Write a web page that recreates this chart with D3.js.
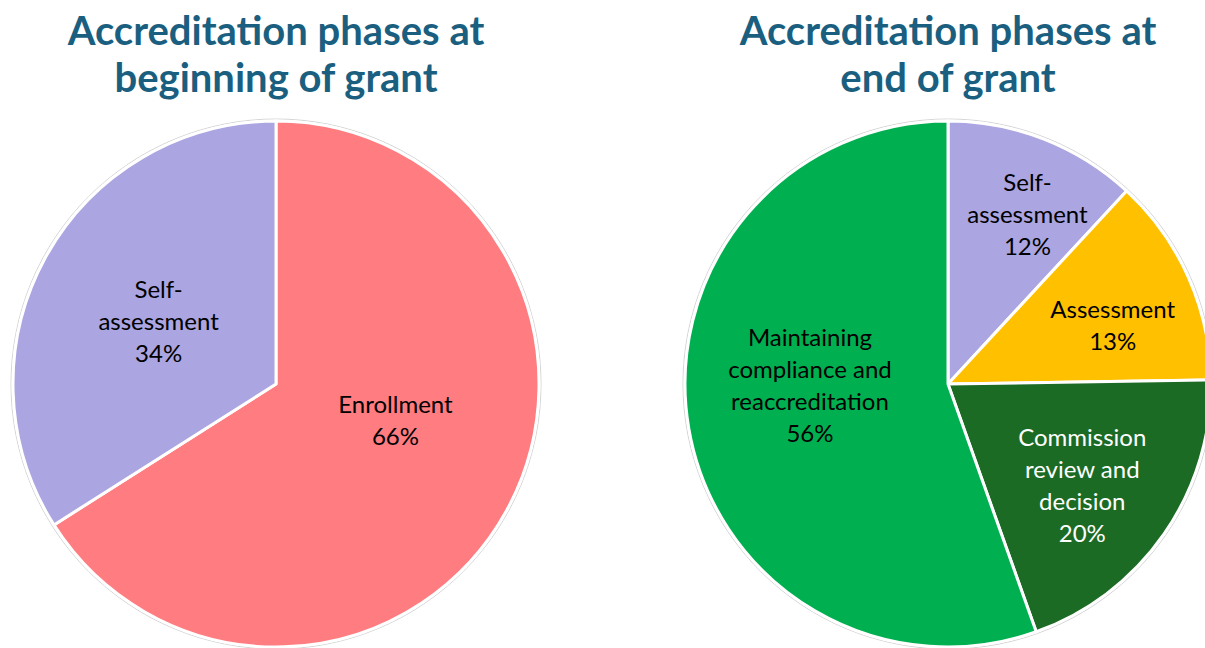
<!DOCTYPE html>
<html>
<head>
<meta charset="utf-8">
<script src="https://cdn.jsdelivr.net/npm/d3@7"></script>
<style>
  body { margin: 0; background: #fff; }
  svg { display: block; }
  .title { font-family: Lato, "Open Sans", sans-serif; font-weight: bold; fill: #1B5F80; }
  .lbl { font-family: Lato, "Open Sans", sans-serif; }
</style>
</head>
<body>
<div id="vis"></div>
<script>
const width = 1205;
const height = 648;

// beginning of grant
const startPhases = ["Enrollment", "Self-assessment"];
const startShares = [66, 34];
const startLabels = [["Enrollment", "66%"], ["Self-", "assessment", "34%"]];

// end of grant
const endPhases = ["Self-assessment", "Assessment", "Commission review and decision", "Maintaining compliance and reaccreditation"];
const endShares = [12, 13, 20, 56];
const endLabels = [["Self-", "assessment", "12%"], ["Assessment", "13%"], ["Commission", "review and", "decision", "20%"], ["Maintaining", "compliance and", "reaccreditation", "56%"]];

const titles = [["Accreditation phases at", "beginning of grant"], ["Accreditation phases at", "end of grant"]];

const phaseColor = d3.scaleOrdinal()
    .domain(["Enrollment", "Self-assessment", "Assessment", "Commission review and decision", "Maintaining compliance and reaccreditation"])
    .range(["#FF7C80", "#ABA5E1", "#FFC000", "#1C6B25", "#00B050"]);
const darkPhases = ["Commission review and decision"];

const svg = d3.select('#vis')
    .append('svg')
    .attr('width', width)
    .attr('height', height);

const radius = 263;

// label placement: fraction of radius along the slice centroid, plus a small nudge
function drawPie(cx, cy, phases, shares, labels, titleLines, labelFrac, nudge) {
    const g = svg.append('g').attr('transform', `translate(${cx},${cy})`);
    const rows = phases.map((p, i) => ({phase: p, share: shares[i], lines: labels[i], frac: labelFrac[i], nudge: nudge[i]}));

    const pie = d3.pie().sort(null).value(d => d.share);
    const arc = d3.arc().innerRadius(0).outerRadius(radius);
    const arcs = pie(rows);

    g.append('circle')
        .attr('r', radius + 2)
        .attr('fill', 'none')
        .attr('stroke', '#d4d4d4')
        .attr('stroke-width', 1);

    g.selectAll('path')
        .data(arcs)
        .join('path')
        .attr('d', arc)
        .attr('fill', d => phaseColor(d.data.phase))
        .attr('stroke', '#fff')
        .attr('stroke-width', 3)
        .attr('stroke-linejoin', 'round');

    const lineH = 32;
    g.selectAll('text.lbl')
        .data(arcs)
        .join('text')
        .attr('class', 'lbl')
        .attr('text-anchor', 'middle')
        .style('font-size', '24px')
        .attr('fill', d => darkPhases.includes(d.data.phase) ? '#fff' : '#000')
        .each(function(d) {
            const r = radius * d.data.frac;
            let [x, y] = d3.arc().innerRadius(r).outerRadius(r).centroid(d);
            x += d.data.nudge[0];
            y += d.data.nudge[1];
            const n = d.data.lines.length;
            d3.select(this).selectAll('tspan')
                .data(d.data.lines)
                .join('tspan')
                .attr('x', x)
                .attr('y', (t, i) => y + (i - (n - 1) / 2) * lineH + 8)
                .text(t => t);
        });

    svg.append('text')
        .attr('class', 'title')
        .attr('text-anchor', 'middle')
        .style('font-size', '40px')
        .selectAll('tspan')
        .data(titleLines)
        .join('tspan')
        .attr('x', cx)
        .attr('y', (t, i) => 45 + i * 47)
        .text(t => t);
}

drawPie(276, 384, startPhases, startShares, startLabels, titles[0], [0.475, 0.44], [[10, -23], [-16, -6]]);
drawPie(948, 384, endPhases, endShares, endLabels, titles[1], [0.745, 0.665, 0.64, 0.525], [[8, 13], [5, 13], [-4, 6], [-2, -22]]);
</script>
</body>
</html>
